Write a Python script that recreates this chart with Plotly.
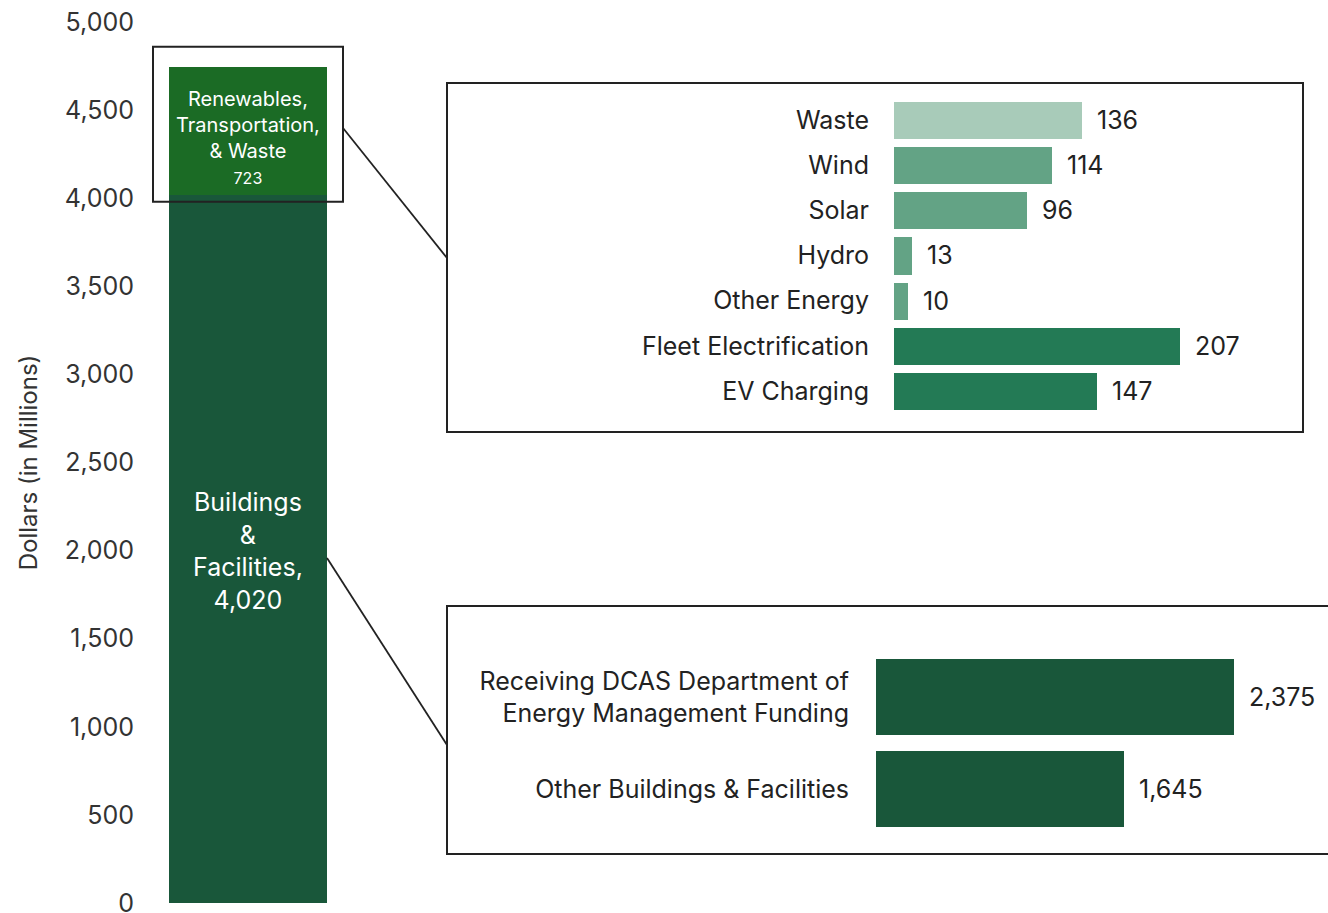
import plotly.graph_objects as go

W, H = 1328, 913

# ---- data ----
main_segments = ["Buildings & Facilities", "Renewables, Transportation, & Waste"]
main_values = [4020, 723]
main_labels = ["Buildings<br>&<br>Facilities,<br>4,020",
               "Renewables,<br>Transportation,<br>& Waste<br><span style='font-size:16px'>723</span>"]
main_colors = ["#19573a", "#1b6b25"]

top_cats = ["Waste", "Wind", "Solar", "Hydro", "Other Energy", "Fleet Electrification", "EV Charging"]
top_vals = [136, 114, 96, 13, 10, 207, 147]
top_colors = ["#a8cbb9", "#63a385", "#63a385", "#63a385", "#63a385", "#237a55", "#237a55"]

bot_cats = ["Receiving DCAS Department of<br>Energy Management Funding", "Other Buildings & Facilities"]
bot_vals = [2375, 1645]
bot_color = "#19573a"

y_ticks = list(range(0, 5001, 500))

FONT = "Inter"
TXT = "#222222"
FS = 25

def fx(p):
    return p / W

def fy(p):
    return 1 - p / H

fig = go.Figure()

# main stacked bar
for name, v, c in zip(main_segments, main_values, main_colors):
    fig.add_trace(go.Bar(x=[0], y=[v], width=1, marker=dict(color=c, line=dict(width=0)),
                         name=name, xaxis="x", yaxis="y", hoverinfo="skip"))

# top inset
fig.add_trace(go.Bar(x=top_vals, y=top_cats, orientation="h", width=0.82,
                     marker=dict(color=top_colors, line=dict(width=0)),
                     xaxis="x2", yaxis="y2", hoverinfo="skip"))
# bottom inset
fig.add_trace(go.Bar(x=bot_vals, y=bot_cats, orientation="h", width=0.82,
                     marker=dict(color=bot_color, line=dict(width=0)),
                     xaxis="x3", yaxis="y3", hoverinfo="skip"))

annotations = []
# bar text in main bar
base = 0
for v, lab, fs in zip(main_values, main_labels, [25, 20]):
    annotations.append(dict(x=0, y=base + v / 2, xref="x", yref="y", text=lab, showarrow=False,
                            font=dict(family=FONT, size=fs, color="white"), align="center"))
    base += v
annotations[0]["yshift"] = -2
annotations[1]["yshift"] = -7

for v, c in zip(top_vals, top_cats):
    annotations.append(dict(x=v, y=c, xref="x2", yref="y2", text=f"{v:,}", showarrow=False,
                            xanchor="left", xshift=13, font=dict(family=FONT, size=FS, color=TXT)))
for v, c in zip(bot_vals, bot_cats):
    annotations.append(dict(x=v, y=c, xref="x3", yref="y3", text=f"{v:,}", showarrow=False,
                            xanchor="left", xshift=13, font=dict(family=FONT, size=FS, color=TXT)))

shapes = [
    # box around top segment
    dict(type="rect", xref="paper", yref="y", x0=fx(153), x1=fx(343),
         y0=main_values[0] - 40, y1=sum(main_values) + 117,
         line=dict(color="#222222", width=2), fillcolor="rgba(0,0,0,0)"),
    # top inset box
    dict(type="rect", xref="paper", yref="paper", x0=fx(447), x1=fx(1303), y0=fy(432), y1=fy(83),
         line=dict(color="#222222", width=2), fillcolor="rgba(0,0,0,0)"),
    # bottom inset box
    dict(type="rect", xref="paper", yref="paper", x0=fx(447), x1=fx(1340), y0=fy(854), y1=fy(606),
         line=dict(color="#222222", width=2), fillcolor="rgba(0,0,0,0)"),
    # connectors
    dict(type="line", xref="paper", yref="paper", x0=fx(343), y0=fy(128), x1=fx(447), y1=fy(258),
         line=dict(color="#222222", width=1.8)),
    dict(type="line", xref="paper", yref="paper", x0=fx(327), y0=fy(558), x1=fx(447), y1=fy(745),
         line=dict(color="#222222", width=1.8)),
]

common = dict(automargin=False)

fig.update_layout(
    width=W, height=H,
    margin=dict(l=0, r=0, t=0, b=0, autoexpand=False),
    paper_bgcolor="white", plot_bgcolor="rgba(0,0,0,0)",
    barmode="stack", bargap=0, showlegend=False,
    font=dict(family=FONT, color=TXT),
    xaxis=dict(domain=[fx(169), fx(327)], range=[-0.5, 0.5], visible=False, fixedrange=True, **common),
    yaxis=dict(domain=[fy(903), fy(22)], range=[0, 5000], tickvals=y_ticks,
               ticktext=[f"{t:,}" for t in y_ticks], showgrid=False, zeroline=False,
               showline=False, ticks="", ticklabelstandoff=34, ticklabeloverflow="allow",
               tickfont=dict(family=FONT, size=FS, color="#333333"),
               title=dict(text="Dollars (in Millions)", standoff=20,
                          font=dict(family=FONT, size=24, color="#333333")), **common),
    xaxis2=dict(domain=[fx(894), fx(1280)], range=[0, 386 / 1.383], visible=False, anchor="y2", **common),
    yaxis2=dict(domain=[fy(413.5), fy(97.5)], anchor="x2", categoryorder="array",
                categoryarray=top_cats, autorange="reversed", showgrid=False, zeroline=False,
                showline=False, ticks="", ticklabelstandoff=24, ticklabeloverflow="allow",
                tickfont=dict(family=FONT, size=FS, color=TXT), **common),
    xaxis3=dict(domain=[fx(876), fx(1300)], range=[0, 424 / 0.1507], visible=False, anchor="y3", **common),
    yaxis3=dict(domain=[fy(835), fy(651)], anchor="x3", categoryorder="array",
                categoryarray=bot_cats, autorange="reversed", showgrid=False, zeroline=False,
                showline=False, ticks="", ticklabelstandoff=26, ticklabeloverflow="allow",
                tickfont=dict(family=FONT, size=FS, color=TXT), **common),
    annotations=annotations,
    shapes=shapes,
)

fig.write_html("out.html")
